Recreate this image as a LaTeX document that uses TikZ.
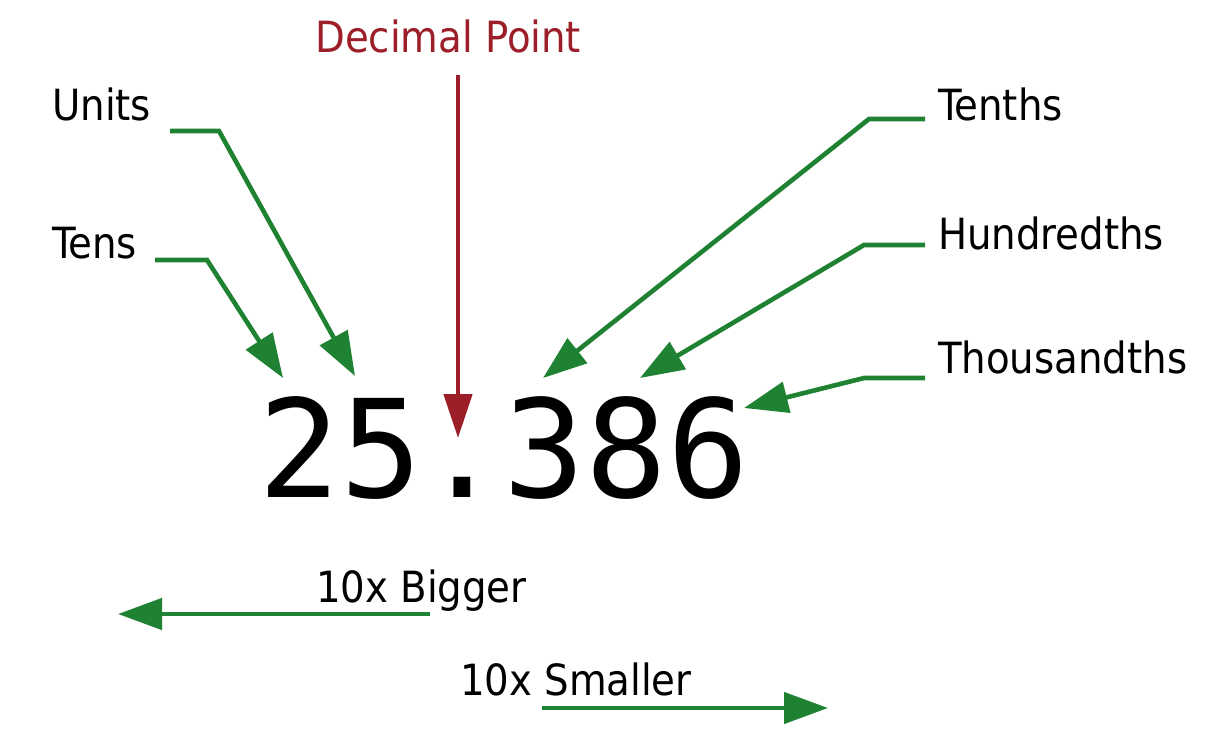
\documentclass[tikz,border=0pt]{standalone}
\usepackage{fontspec}
\setmainfont{DejaVu Sans Condensed}
\newfontfamily\digitfont{DejaVu Sans Mono}
\usetikzlibrary{arrows.meta,calc,positioning}
\definecolor{placegreen}{RGB}{30,130,50}
\definecolor{pointred}{RGB}{155,30,40}

\begin{document}
\begin{tikzpicture}[
  x=1pt,y=-1pt,
  lbl/.style ={inner sep=0pt,anchor=base west,font=\fontsize{43}{50}\selectfont},
  garrow/.style={draw=placegreen,line width=4.6pt,
                 -{Triangle[length=44pt,width=31pt]}},
  rarrow/.style={draw=pointred,line width=4.6pt,
                 -{Triangle[length=44pt,width=28pt]}},
]
\useasboundingbox (0,0) rectangle (1221,736);

%% the number
\node[inner sep=0pt,anchor=base west,font=\digitfont\fontsize{136}{140}\selectfont]
  (num) at (258,497) {25.386};

%% place labels
\node[lbl,text=pointred] (point) at (315,52) {Decimal Point};
\node[lbl] (units) at (52,120) {Units};
\node[lbl] (tens) at (52,258) {Tens};
\node[lbl] (tenths) at (938,120) {Tenths};
\node[lbl] (hundredths) at (938,249) {Hundredths};
\node[lbl] (thousandths) at (938,373) {Thousandths};

% tips on the digits
\coordinate (tiptens) at (283,378);
\coordinate (tipunits) at (355,376);
\coordinate (tippoint) at (458,438);
\coordinate (tiptenths) at (543,378);
\coordinate (tiphundredths) at (640,378);
\coordinate (tipthousandths) at (744,408);

%% connectors
\draw[rarrow] (458,75) -- (tippoint);
\draw[garrow] (170,131) -- (219,131) -- (tipunits);
\draw[garrow] (155,260) -- (207,260) -- (tiptens);
\draw[garrow] (925,119) -- (869,119) -- (tiptenths);
\draw[garrow] (925,245) -- (864,245) -- (tiphundredths);
\draw[garrow] (925,378) -- (864,378) -- (tipthousandths);

%% place value direction
\node[lbl] (bigger) at (316,602) {10x Bigger};
\node[lbl] (smaller) at (460,695) {10x Smaller};
\coordinate (bigend) at (118,614);
\coordinate (smallend) at (828,708);
\draw[garrow] (430,614) -- (bigend);
\draw[garrow] (542,708) -- (smallend);

\end{tikzpicture}
\end{document}
